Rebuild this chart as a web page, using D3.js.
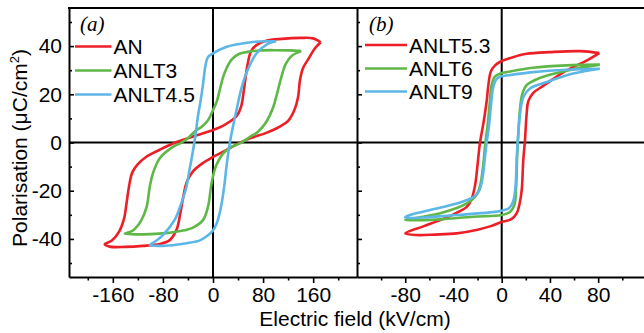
<!DOCTYPE html>
<html>
<head>
<meta charset="utf-8">
<script src="https://cdn.jsdelivr.net/npm/d3@7"></script>
<style>
    body { margin: 0; background: #fff; }
    svg { display: block; }
    text { font-family: "Liberation Sans", Arial, sans-serif; fill: #000; }
</style>
</head>
<body>
<div id="chart"></div>
<script>
// hysteresis loops, [E (kV/cm), P (uC/cm2)], traced from +Emax round to -Emax and back
const anLoop = [
    [172, 41.6], [160, 43.2], [140, 43.4], [110, 43], [85, 42.2], [70, 40.5], [61, 38], [55, 32], [50, 23],
    [45, 15], [38, 11], [30, 9.2], [15, 6.8], [0, 5.2], [-26, 3], [-45, 1.4], [-64, -0.4], [-85, -3],
    [-107, -6], [-120, -9], [-129, -12.5], [-134, -18], [-138, -25], [-142, -31.5], [-150, -37],
    [-162, -40.8], [-173, -42.1],
    [-165, -43.2], [-140, -43.3], [-112, -42.9], [-85, -42.1], [-69, -40.5], [-58, -36], [-52, -29],
    [-47, -22], [-42, -16.5], [-32, -12], [-16, -8.5], [0, -6], [21, -3.2], [40, -0.5], [60, 1.8],
    [85, 4], [106, 6.5], [120, 9], [130, 13.5], [136, 19], [139, 26], [144, 31], [152, 34.5],
    [162, 38.8], [172, 41.6]
]
const anlt3Loop = [
    [141, 37.9], [122, 38.2], [100, 38.3], [75, 38.2], [55, 37.6], [42, 36.8], [30, 34.5], [22, 31],
    [16, 27], [11, 22], [6, 17], [0, 13.4], [-8, 9.2], [-18, 6.5], [-27, 5], [-38, 2.3], [-50, 0],
    [-64, -1.8], [-85, -6.5], [-96, -12.8], [-101, -18.4], [-106, -26.7], [-115, -32.5], [-128, -36.5],
    [-141, -37.8],
    [-125, -38.1], [-100, -38], [-75, -37.6], [-58, -37], [-42, -36.2], [-32, -35.3], [-16, -32.2],
    [-8, -26.7], [-3, -18], [0, -14], [5, -9.5], [16, -4.6], [28, -2], [43, -0.4], [59, 2.3],
    [72, 4.5], [85, 8.5], [96, 14.5], [102, 20], [108, 26], [116, 32.5], [126, 36], [141, 37.9]
]
const anlt45Loop = [
    [101, 42], [85, 42], [64, 41.7], [40, 40.8], [21, 39.6], [0, 37], [-8, 35.5], [-12, 32], [-16, 24],
    [-20, 17], [-24, 11], [-28, 3], [-33, -5], [-38, -12], [-43, -19], [-51, -25.5], [-61, -32],
    [-80, -38.4], [-92, -41], [-101, -42.5],
    [-85, -42.9], [-65, -42.6], [-42, -41.8], [-20, -40.5], [-8, -38.5], [0, -36.5], [6, -33.5],
    [10, -30], [14, -25], [18, -18], [22, -9], [27, 0], [33, 8], [38, 14], [44, 21], [53, 28.6],
    [69, 36.8], [88, 41], [101, 42]
]
const anlt53Loop = [
    [81, 37.1], [65, 37.9], [40, 37.5], [20.7, 36.8], [8, 35.2], [0, 33.8], [-5.5, 32], [-9, 29.5],
    [-11, 24], [-12.5, 17], [-15.2, 7.9], [-18, 0], [-20.2, -10.1], [-22, -17.5], [-25, -23.5],
    [-29, -26.7], [-40, -29.8], [-51, -32.2], [-65, -34.8], [-80, -37.7],
    [-70.5, -38.4], [-55, -38.2], [-37.3, -37.7], [-20, -36.2], [-9.7, -34.8], [0, -33], [8, -31.8],
    [12.4, -29.4], [15, -25], [16.6, -19.8], [17.9, -7.3], [19.3, 1], [20.7, 12], [22, 17], [26, 20.5],
    [34.4, 23.5], [53.8, 29.9], [70.4, 34], [81, 37.1]
]
const anlt6Loop = [
    [81.4, 32.3], [53.8, 32], [26, 31], [4, 29.2], [0, 28.8], [-5.5, 27.4], [-8.3, 24], [-10, 16],
    [-11.5, 8], [-13.5, 0], [-15.5, -10], [-17.5, -17], [-20.5, -21.5], [-29, -25.3], [-51, -29.4],
    [-70, -31.2], [-80, -32.2],
    [-65, -32.2], [-51, -31.9], [-23.5, -30.8], [0, -30.1], [6.9, -28.8], [10.5, -26], [12, -18],
    [12.8, -6], [13.8, 4], [15.2, 14], [17, 20], [20.7, 23.8], [31.7, 26.8], [53.8, 29.8], [81.4, 32.3]
]
const anlt9Loop = [
    [81.4, 30.6], [53.8, 30.2], [26, 29.2], [1.4, 27.6], [0, 27.5], [-4, 26.5], [-7, 23], [-9, 15],
    [-10.5, 7], [-12.5, 0], [-14.5, -9], [-16, -15], [-18.5, -19.8], [-23, -22.5], [-37.3, -25.3],
    [-59.4, -28], [-78.7, -30.5], [-80, -31.1],
    [-65, -31.1], [-37.3, -30.1], [-9.7, -29], [0, -28.3], [6, -27.3], [9.5, -24.5], [11.5, -18],
    [12.5, -6], [13.8, 4], [15.5, 13], [18, 18.9], [23.4, 22.4], [37.3, 25.1], [59.3, 28.6], [81.4, 30.6]
]

const seriesA = ["AN", "ANLT3", "ANLT4.5"]
const seriesB = ["ANLT5.3", "ANLT6", "ANLT9"]
const loopsA = [anLoop, anlt3Loop, anlt45Loop]
const loopsB = [anlt53Loop, anlt6Loop, anlt9Loop]

const xTicksA = [-160, -80, 0, 80, 160]
const xMinorA = [-200, -120, -40, 40, 120, 200]
const xTicksB = [-80, -40, 0, 40, 80]
const xMinorB = [-100, -60, -20, 20, 60, 100]
const yTicks = [-40, -20, 0, 20, 40]
const yMinor = [-50, -30, -10, 10, 30, 50]

function drawChart() {
    const dimensions = {
        width: 644,
        height: 333,
        top: 8,
        bottom: 277,
        leftA: 69,
        splitX: 357,
        rightB: 646.4,
    }
    const colors = ["#ec1f27", "#5fb748", "#5cb6e6"]

    const wrapper = d3.select("#chart").append("svg")
        .attr("width", dimensions.width)
        .attr("height", dimensions.height)

    const yScale = d3.scaleLinear()
        .domain([-55.8, 55.8])
        .range([dimensions.bottom, dimensions.top])
    const xScaleA = d3.scaleLinear()
        .domain([-230, 230])
        .range([dimensions.leftA, dimensions.splitX])
    const xScaleB = d3.scaleLinear()
        .domain([-120, 120])
        .range([dimensions.splitX, dimensions.rightB])

    const defs = wrapper.append("defs")

    function drawPanel(xScale, loops, names, tag, majors, minors, showYLabels, legendX, legendYs, lineLen) {
        const x0 = xScale.range()[0]
        const x1 = xScale.range()[1]

        defs.append("clipPath").attr("id", "clip-" + tag)
            .append("rect")
            .attr("x", x0).attr("y", dimensions.top)
            .attr("width", x1 - x0).attr("height", dimensions.bottom - dimensions.top)

        const panel = wrapper.append("g")

        // zero lines
        panel.append("line")
            .attr("x1", x0).attr("x2", x1)
            .attr("y1", yScale(0)).attr("y2", yScale(0))
            .attr("stroke", "#000").attr("stroke-width", 2)
        panel.append("line")
            .attr("x1", xScale(0)).attr("x2", xScale(0))
            .attr("y1", dimensions.top).attr("y2", dimensions.bottom)
            .attr("stroke", "#000").attr("stroke-width", 2)

        const lineGen = d3.line()
            .x(d => xScale(d[0]))
            .y(d => yScale(d[1]))
            .curve(d3.curveCatmullRom.alpha(0.5))

        panel.append("g")
            .attr("clip-path", `url(#clip-${tag})`)
            .selectAll("path")
            .data(loops)
            .join("path")
            .attr("d", lineGen)
            .attr("fill", "none")
            .attr("stroke", (d, i) => colors[i])
            .attr("stroke-width", 2.6)
            .attr("stroke-linejoin", "round")

        // bottom axis, ticks outward
        const xAxis = panel.append("g")
            .attr("transform", `translate(0, ${dimensions.bottom})`)
            .call(d3.axisBottom(xScale).tickValues(majors).tickSize(6).tickSizeOuter(0)
                .tickPadding(4).tickFormat(d => String(d)))
        xAxis.select(".domain").attr("stroke-width", 2)
        xAxis.selectAll(".tick line").attr("stroke-width", 1.6)
        xAxis.selectAll("text").attr("font-size", 21)
            .style("font-family", '"Liberation Sans", Arial, sans-serif')

        const xMinorAxis = panel.append("g")
            .attr("transform", `translate(0, ${dimensions.bottom})`)
            .call(d3.axisBottom(xScale).tickValues(minors).tickSize(3.5).tickSizeOuter(0).tickFormat(""))
        xMinorAxis.select(".domain").remove()
        xMinorAxis.selectAll(".tick line").attr("stroke-width", 1.6)

        // left axis, ticks inward
        const yAxis = panel.append("g")
            .attr("transform", `translate(${x0}, 0)`)
            .call(d3.axisLeft(yScale).tickValues(yTicks).tickSize(-5).tickSizeOuter(0)
                .tickPadding(7).tickFormat(d => showYLabels ? String(d) : ""))
        yAxis.select(".domain").attr("stroke-width", 2)
        yAxis.selectAll(".tick line").attr("stroke-width", 1.6)
        yAxis.selectAll("text").attr("font-size", 21)
            .style("font-family", '"Liberation Sans", Arial, sans-serif')

        const yMinorAxis = panel.append("g")
            .attr("transform", `translate(${x0}, 0)`)
            .call(d3.axisLeft(yScale).tickValues(yMinor).tickSize(-3).tickSizeOuter(0).tickFormat(""))
        yMinorAxis.select(".domain").remove()
        yMinorAxis.selectAll(".tick line").attr("stroke-width", 1.6)

        // legend
        const legend = panel.append("g")
        legend.selectAll("line")
            .data(names)
            .join("line")
            .attr("x1", legendX).attr("x2", legendX + lineLen)
            .attr("y1", (d, i) => legendYs[i]).attr("y2", (d, i) => legendYs[i])
            .attr("stroke", (d, i) => colors[i])
            .attr("stroke-width", 2.6)
        legend.selectAll("text")
            .data(names)
            .join("text")
            .attr("x", legendX + lineLen + 2)
            .attr("y", (d, i) => legendYs[i])
            .attr("dy", "0.36em")
            .attr("font-size", 21)
            .text(d => d)
    }

    drawPanel(xScaleA, loopsA, seriesA, "a", xTicksA, xMinorA, true, 75, [46.5, 70.5, 94.5], 36.5)
    drawPanel(xScaleB, loopsB, seriesB, "b", xTicksB, xMinorB, false, 365, [45, 68.5, 91.5], 42)

    // top frame line
    wrapper.append("line")
        .attr("x1", dimensions.leftA - 1).attr("x2", dimensions.width)
        .attr("y1", dimensions.top).attr("y2", dimensions.top)
        .attr("stroke", "#000").attr("stroke-width", 2)

    // panel letters
    wrapper.append("text")
        .attr("x", 80).attr("y", 31)
        .attr("font-size", 21)
        .style("font-family", '"Liberation Serif", "Times New Roman", serif')
        .style("font-style", "italic")
        .text("(a)")
    wrapper.append("text")
        .attr("x", 369).attr("y", 31)
        .attr("font-size", 21)
        .style("font-family", '"Liberation Serif", "Times New Roman", serif')
        .style("font-style", "italic")
        .text("(b)")

    // axis titles
    wrapper.append("text")
        .attr("x", 355).attr("y", 326)
        .attr("text-anchor", "middle")
        .attr("font-size", 21)
        .text("Electric field (kV/cm)")

    const yTitle = wrapper.append("text")
        .attr("transform", "translate(27, 148) rotate(-90)")
        .attr("text-anchor", "middle")
        .attr("font-size", 21)
    yTitle.append("tspan").text("Polarisation (μC/cm")
    yTitle.append("tspan").attr("font-size", 13).attr("dy", -8).text("2")
    yTitle.append("tspan").attr("dy", 8).text(")")
}

drawChart()
</script>
</body>
</html>
